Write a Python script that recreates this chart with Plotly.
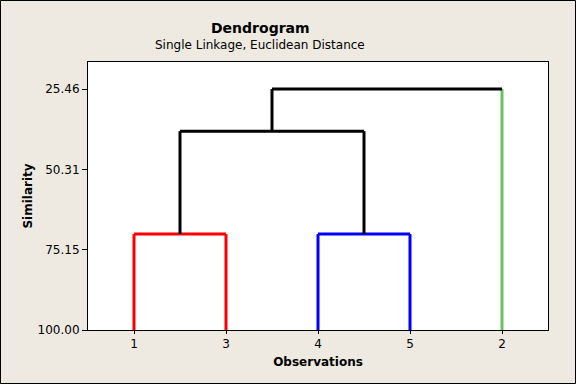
import plotly.graph_objects as go

# Data
leaf_order = ["1", "3", "4", "5", "2"]
y_ticks = [25.46, 50.31, 75.15, 100.00]
# merges: (left member, right member, similarity level, color)
merges = [
    ("1", "3", 70.33, "#FF0000"),
    ("4", "5", 70.33, "#0000FF"),
    ("C1", "C2", 38.5, "#000000"),
    ("C3", "2", 25.46, "#000000"),
]
leaf_colors = {"1": "#FF0000", "3": "#FF0000", "4": "#0000FF", "5": "#0000FF", "2": "#66C266"}
base_level = 100.0

pos = {name: i + 1 for i, name in enumerate(leaf_order)}
height = {name: base_level for name in leaf_order}
traces = []
for k, (a, b, lev, col) in enumerate(merges):
    xa, xb = pos[a], pos[b]
    ya, yb = height[a], height[b]
    col_a = leaf_colors.get(a, col)
    col_b = leaf_colors.get(b, col)
    traces.append(go.Scatter(x=[xa, xa], y=[ya, lev], mode="lines", line=dict(color=col_a, width=3)))
    traces.append(go.Scatter(x=[xb, xb], y=[yb, lev], mode="lines", line=dict(color=col_b, width=3)))
    traces.append(go.Scatter(x=[xa, xb], y=[lev, lev], mode="lines", line=dict(color=col, width=3)))
    new = "C%d" % (k + 1)
    pos[new] = (xa + xb) / 2
    height[new] = lev

fig = go.Figure(traces)

L, R, T, B = 88, 28, 62, 54
W, H = 576, 384
pw, ph = W - L - R, H - T - B
font = "Tahoma, DejaVu Sans, sans-serif"

fig.update_layout(
    width=W, height=H,
    margin=dict(l=L, r=R, t=T, b=B, autoexpand=False),
    paper_bgcolor="#EEEAE1",
    plot_bgcolor="#FFFFFF",
    showlegend=False,
    font=dict(family=font, size=11, color="#000000"),
)
fig.update_xaxes(
    automargin=False,
    range=[0.5, len(leaf_order) + 0.5],
    tickvals=list(range(1, len(leaf_order) + 1)),
    ticktext=leaf_order,
    showgrid=False, zeroline=False,
    showline=True, linecolor="#000000", linewidth=1, mirror=True,
    ticks="outside", ticklen=3, tickcolor="#000000",
    tickfont=dict(size=12),
    title=dict(text="<b>Observations</b>", font=dict(size=12), standoff=7),
)
fig.update_yaxes(
    automargin=False,
    range=[100, 17.1],
    tickvals=y_ticks,
    ticktext=["%.2f" % v for v in y_ticks],
    showgrid=False, zeroline=False,
    showline=True, linecolor="#000000", linewidth=1, mirror=True,
    ticks="outside", ticklen=5, tickcolor="#000000",
    tickfont=dict(size=12),
    title=dict(text="<b>Similarity</b>", font=dict(size=12), standoff=2),
)

fig.add_annotation(text="<b>Dendrogram</b>", xref="paper", yref="paper",
                   x=(260 - L) / pw, y=1 + (T - 28) / ph, showarrow=False,
                   font=dict(size=14), xanchor="center", yanchor="middle")
fig.add_annotation(text="Single Linkage, Euclidean Distance", xref="paper", yref="paper",
                   x=(260 - L) / pw, y=1 + (T - 45) / ph, showarrow=False,
                   font=dict(size=12), xanchor="center", yanchor="middle")

# outer frame
fig.add_shape(type="rect", xref="paper", yref="paper",
              x0=(-L + 0.5) / pw, x1=1 + (R - 0.5) / pw,
              y0=(-B + 0.5) / ph, y1=1 + (T - 0.5) / ph,
              line=dict(color="#000000", width=1), layer="below")

fig.write_html("out.html", config={"displayModeBar": False},
               post_script="document.body.style.margin='0';")
